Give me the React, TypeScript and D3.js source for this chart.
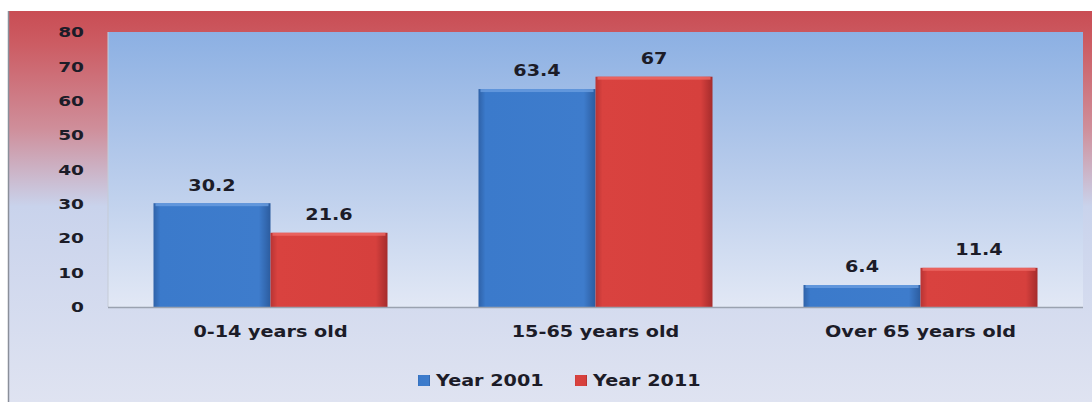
import React from "react";
import * as d3 from "d3";

const categories = ["0-14 years old", "15-65 years old", "Over 65 years old"];
const seriesNames = ["Year 2001", "Year 2011"];
const year2001 = [30.2, 63.4, 6.4];
const year2011 = [21.6, 67, 11.4];
const yTicks = [0, 10, 20, 30, 40, 50, 60, 70, 80];

const W = 1092;
const H = 402;
const plot = { left: 108, right: 1083, top: 32, bottom: 307 };
const FONT = "'DejaVu Sans', Verdana, sans-serif";
const SX = 1.28;

function Label(props: {
  x: number;
  y: number;
  anchor: "start" | "middle" | "end";
  size: number;
  children: React.ReactNode;
}) {
  return (
    <text
      transform={`translate(${props.x},${props.y}) scale(${SX},1)`}
      dy="0.36em"
      textAnchor={props.anchor}
      fontFamily={FONT}
      fontWeight="bold"
      fontSize={props.size}
      fill="#1c1c28"
    >
      {props.children}
    </text>
  );
}

export default function App() {
  const x = d3
    .scaleBand<string>()
    .domain(categories)
    .range([plot.left, plot.right])
    .paddingInner(0.28)
    .paddingOuter(0.14);
  const x1 = d3.scaleBand<string>().domain(seriesNames).range([0, x.bandwidth()]).padding(0);
  const y = d3.scaleLinear().domain([0, 80]).range([plot.bottom, plot.top]);
  const series = [
    { name: seriesNames[0], values: year2001, fill: "url(#gBlue)", key: "blue" },
    { name: seriesNames[1], values: year2011, fill: "url(#gRed)", key: "red" },
  ];
  const legendX = [418, 575];

  return (
    <svg
      width={W}
      height={H}
      style={{ position: "absolute", left: 0, top: 0, display: "block" }}
    >
      <defs>
        <linearGradient id="gFrame" x1="0" y1="0" x2="0" y2="1">
          <stop offset="0" stopColor="#c94d54" />
          <stop offset="0.08" stopColor="#cc5b62" />
          <stop offset="0.3" stopColor="#cf8e9a" />
          <stop offset="0.5" stopColor="#c9d3ec" />
          <stop offset="1" stopColor="#dfe3f1" />
        </linearGradient>
        <linearGradient id="gPlot" x1="0" y1="0" x2="0" y2="1">
          <stop offset="0" stopColor="#8cb0e3" />
          <stop offset="0.5" stopColor="#b7cbeb" />
          <stop offset="1" stopColor="#e2e8f5" />
        </linearGradient>
        <linearGradient id="gBlue" x1="0" y1="0" x2="1" y2="0">
          <stop offset="0" stopColor="#2f62a8" />
          <stop offset="0.06" stopColor="#3b7acb" />
          <stop offset="0.9" stopColor="#3e7ccc" />
          <stop offset="1" stopColor="#2c5c9f" />
        </linearGradient>
        <linearGradient id="gRed" x1="0" y1="0" x2="1" y2="0">
          <stop offset="0" stopColor="#b83434" />
          <stop offset="0.06" stopColor="#d9423f" />
          <stop offset="0.9" stopColor="#d6403d" />
          <stop offset="1" stopColor="#a52c2c" />
        </linearGradient>
      </defs>
      <rect x={0} y={0} width={W} height={H} fill="#ffffff" />
      <rect x={8} y={11} width={W - 8} height={H - 11} fill="url(#gFrame)" />
      <line x1={8.5} y1={11} x2={8.5} y2={H} stroke="#8a8f9a" strokeWidth={1.5} />
      <rect
        x={plot.left}
        y={plot.top}
        width={plot.right - plot.left}
        height={plot.bottom - plot.top}
        fill="url(#gPlot)"
      />
      <line x1={plot.left} y1={plot.top} x2={plot.left} y2={plot.bottom} stroke="#c5cbd6" strokeWidth={1} />
      {yTicks.map((t) => (
        <Label key={t} x={84} y={y(t)} anchor="end" size={14.5}>
          {t}
        </Label>
      ))}
      {series.map((s) =>
        categories.map((c, i) => {
          const bx = (x(c) ?? 0) + (x1(s.name) ?? 0);
          const bw = x1.bandwidth();
          const by = y(s.values[i]);
          return (
            <g key={s.name + c}>
              <rect x={bx} y={by} width={bw} height={plot.bottom - by} fill={s.fill} />
              <rect
                x={bx + 2}
                y={by}
                width={bw - 4}
                height={3}
                fill={s.key === "blue" ? "#6a9ee0" : "#ee6a66"}
                opacity={0.8}
              />
              <Label x={bx + bw / 2} y={by - 18} anchor="middle" size={15}>
                {s.values[i]}
              </Label>
            </g>
          );
        })
      )}
      <line x1={plot.left} y1={plot.bottom + 0.5} x2={plot.right} y2={plot.bottom + 0.5} stroke="#9aa2b0" strokeWidth={1.5} />
      {categories.map((c) => (
        <Label key={c} x={(x(c) ?? 0) + x.bandwidth() / 2} y={332} anchor="middle" size={15}>
          {c}
        </Label>
      ))}
      {series.map((s, i) => (
        <g key={"lg" + s.name}>
          <rect x={legendX[i]} y={375} width={12} height={11} fill={s.fill} />
          <Label x={legendX[i] + 18} y={381} anchor="start" size={15}>
            {s.name}
          </Label>
        </g>
      ))}
    </svg>
  );
}
